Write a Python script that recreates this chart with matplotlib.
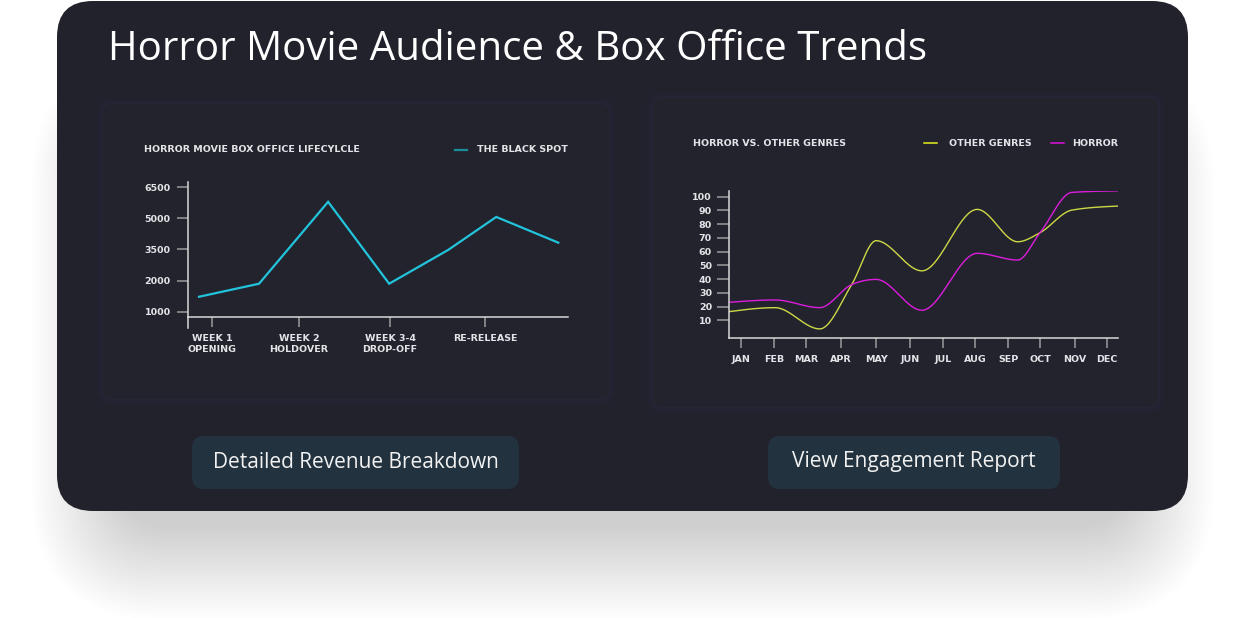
import matplotlib.pyplot as plt
import numpy as np
from matplotlib.patches import FancyBboxPatch

W, H = 1240, 618

# left chart: box office lifecycle (x in px-like units along the axis)
life_x = [11, 71, 140, 201, 260, 308, 370]
life_vals = [1220, 1850, 5800, 1850, 3480, 5070, 3830]
life_tick_pos = [24, 111, 202, 297]
life_tick_labels = ['WEEK 1\nOPENING', 'WEEK 2\nHOLDOVER', 'WEEK 3-4\nDROP-OFF', 'RE-RELEASE']
life_y_ticks = [6500, 5000, 3500, 2000, 500]
life_y_labels = ['6500', '5000', '3500', '2000', '1000']

# right chart: horror vs other genres (x = day of year)
genre_day = [0, 43, 85, 115, 138, 181, 233, 271, 292, 322, 365]
other_genres = [16.3, 19.2, 3.7, 36, 68, 46, 90.8, 67.2, 73.8, 90.3, 93.2]
horror = [23.1, 24.8, 19.2, 36, 39.8, 17.3, 58.8, 53.9, 73.8, 103.2, 104.3]
month_day = [11, 42, 72, 105, 138, 170, 201, 231, 262, 292, 325, 355]
months = ['JAN', 'FEB', 'MAR', 'APR', 'MAY', 'JUN', 'JUL', 'AUG', 'SEP', 'OCT', 'NOV', 'DEC']
genre_y_ticks = [10, 20, 30, 40, 50, 60, 70, 80, 90, 100]

CARD = '#22222d'
TXT = '#e4e4e8'
CYAN = '#22c4dc'
YEL = '#cdd845'
PINK = '#dc1ddc'
FONT = 'DejaVu Sans'
SMALL = 6.8


def monotone_curve(x, y, n=40):
    # monotone cubic hermite, same idea as d3.curveMonotoneX
    x = np.asarray(x, float)
    y = np.asarray(y, float)
    h = np.diff(x)
    s = np.diff(y) / h
    m = np.zeros_like(y)
    for i in range(1, len(x) - 1):
        p = (s[i - 1] * h[i] + s[i] * h[i - 1]) / (h[i - 1] + h[i])
        m[i] = (np.sign(s[i - 1]) + np.sign(s[i])) * min(abs(s[i - 1]), abs(s[i]), 0.5 * abs(p))
    m[0] = (3 * s[0] - m[1]) / 2
    m[-1] = (3 * s[-1] - m[-2]) / 2
    xs, ys = [], []
    for i in range(len(h)):
        t = np.linspace(0, 1, n)
        h00 = 2 * t**3 - 3 * t**2 + 1
        h10 = t**3 - 2 * t**2 + t
        h01 = -2 * t**3 + 3 * t**2
        h11 = t**3 - t**2
        xs.append(x[i] + t * h[i])
        ys.append(h00 * y[i] + h10 * h[i] * m[i] + h01 * y[i + 1] + h11 * h[i] * m[i + 1])
    return np.concatenate(xs), np.concatenate(ys)


def rbox(ax, x, y, w, h, r, **kw):
    p = FancyBboxPatch((x, y), w, h, boxstyle=f'round,pad=0,rounding_size={r}', **kw)
    ax.add_patch(p)
    return p


fig = plt.figure(figsize=(W / 100, H / 100), dpi=100)
fig.patch.set_facecolor('white')
bg = fig.add_axes([0, 0, 1, 1])
bg.set_xlim(0, W)
bg.set_ylim(H, 0)
bg.axis('off')

# soft drop shadow under the card
n = 48
for i in range(n):
    g = 95 * (1 - i / n)
    rbox(bg, 125 - g, 150 - g, 995 + 2 * g, 375 + 2 * g, 40 + g,
         facecolor='black', edgecolor='none', alpha=0.0055)

# card
rbox(bg, 57, 1, 1131, 510, 36, facecolor=CARD, edgecolor='none')

# title
bg.text(108, 50, 'Horror Movie Audience & Box Office Trends', color='white',
        fontsize=29, family='Open Sans', fontweight='medium', va='center', ha='left')

# chart panels with faint glow
for (px, py, pw, ph) in [(102, 103, 508, 297), (652, 97, 507, 311)]:
    for k in range(1, 5):
        rbox(bg, px - k, py - k, pw + 2 * k, ph + 2 * k, 10 + k,
             facecolor='none', edgecolor='#2e2a52', lw=1.0, alpha=0.10)
    rbox(bg, px, py, pw, ph, 10, facecolor='#23232e', edgecolor='#27263a', lw=1)

# buttons
for (bx, label) in [(192, 'Detailed Revenue Breakdown'), (768, 'View Engagement Report')]:
    bw = 327 if bx == 192 else 292
    rbox(bg, bx, 436, bw, 53, 12, facecolor='#22333f', edgecolor='none')
    bg.text(bx + bw / 2, 462, label, color='#f2f2f2', fontsize=15,
            family='Open Sans', fontweight='medium', ha='center', va='center')


def style_axis(ax):
    ax.set_facecolor('none')
    for side in ['top', 'right']:
        ax.spines[side].set_visible(False)
    for side in ['left', 'bottom']:
        ax.spines[side].set_color('#d8d8d8')
        ax.spines[side].set_linewidth(1.1)
    ax.tick_params(colors='#9c9c9c', width=1.1, labelcolor=TXT, labelsize=SMALL)
    for lab in ax.get_xticklabels() + ax.get_yticklabels():
        lab.set_fontweight('bold')
        lab.set_family(FONT)


# ---- left chart
ax1 = fig.add_axes([188 / W, 1 - 317 / H, 380.3 / W, 134.7 / H])
ax1.plot(life_x, life_vals, color=CYAN, lw=1.6, solid_joinstyle='miter')
ax1.set_xlim(0, 380)
ax1.set_ylim(244, 6741)
ax1.set_yticks(life_y_ticks)
ax1.set_yticklabels(life_y_labels)
ax1.set_xticks(life_tick_pos)
ax1.set_xticklabels(life_tick_labels, linespacing=1.3)
style_axis(ax1)
ax1.tick_params(axis='y', length=8, pad=4.5)
ax1.tick_params(axis='x', length=7.5, pad=4.5)
ax1.plot([0, 0], [0, -0.078], transform=ax1.transAxes, color='#d8d8d8', lw=1.1, clip_on=False)
ax1.text(-0.115, 1.24, 'HORROR MOVIE BOX OFFICE LIFECYLCLE', transform=ax1.transAxes,
         color=TXT, fontsize=SMALL, fontweight='bold', family=FONT, va='center')
ax1.plot([0.701, 0.733], [1.24, 1.24], transform=ax1.transAxes, color='#1b8d9c', lw=1.6, clip_on=False)
ax1.text(1.0, 1.24, 'THE BLACK SPOT', transform=ax1.transAxes, ha='right',
         color=TXT, fontsize=SMALL, fontweight='bold', family=FONT, va='center')

# ---- right chart
ax2 = fig.add_axes([729.3 / W, 1 - 337.7 / H, 388.4 / W, 146.7 / H])
cx, cy = monotone_curve(genre_day, other_genres)
ax2.plot(cx, cy, color=YEL, lw=1.0)
cx, cy = monotone_curve(genre_day, horror)
ax2.plot(cx, cy, color=PINK, lw=1.0)
ax2.set_xlim(0, 365)
ax2.set_ylim(-2.7, 104.2)
ax2.set_yticks(genre_y_ticks)
ax2.set_xticks(month_day)
ax2.set_xticklabels(months)
style_axis(ax2)
ax2.tick_params(axis='y', length=9, pad=3.5)
ax2.tick_params(axis='x', length=7.5, pad=5)
ty = 1 + (191 - 143) / 146.7
ax2.text((693 - 729.3) / 388.4, ty, 'HORROR VS. OTHER GENRES', transform=ax2.transAxes,
         color=TXT, fontsize=SMALL, fontweight='bold', family=FONT, va='center')
ax2.plot([(924 - 729.3) / 388.4, (937 - 729.3) / 388.4], [ty, ty], transform=ax2.transAxes,
         color='#e4f01e', lw=1.1, clip_on=False)
ax2.text((949 - 729.3) / 388.4, ty, 'OTHER GENRES', transform=ax2.transAxes,
         color=TXT, fontsize=SMALL, fontweight='bold', family=FONT, va='center')
ax2.plot([(1051 - 729.3) / 388.4, (1064 - 729.3) / 388.4], [ty, ty], transform=ax2.transAxes,
         color='#e010e0', lw=1.1, clip_on=False)
ax2.text(1.0, ty, 'HORROR', transform=ax2.transAxes, ha='right',
         color=TXT, fontsize=SMALL, fontweight='bold', family=FONT, va='center')

fig.savefig('out.png', dpi=100, facecolor='white')
